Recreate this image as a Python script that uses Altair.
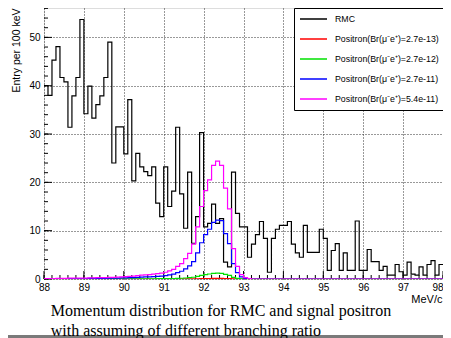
import altair as alt
import pandas as pd

# ---- data (bins of 100 keV from 88.0 to 98.0 MeV/c) ----
bin_start = 88.0
bin_width = 0.1

rmc = [40.0, 38.0, 45.3, 48.1, 41.7, 40.8, 31.4, 37.9, 41.7, 53.7,
       34.2, 39.9, 33.3, 36.1, 37.9, 41.7, 49.0, 24.0, 31.5, 31.5,
       25.9, 37.1, 20.3, 26.0, 23.2, 22.2, 21.4, 23.2, 15.7, 12.9,
       23.2, 15.0, 18.2, 31.4, 17.6, 10.5, 22.1, 7.4, 12.9, 30.3,
       10.8, 11.5, 15.5, 11.5, 12.5, 3.5, 2.5, 22.1, 13.6, 10.8,
       10.8, 4.5, 7.2, 9.2, 11.9, 8.4, 1.4, 8.4, 10.3, 11.1,
       11.1, 11.9, 7.2, 5.4, 4.5, 11.1, 5.5, 5.5, 5.5, 10.3,
       8.4, 1.8, 5.9, 7.3, 1.8, 5.4, 1.8, 1.8, 12.0, 1.8,
       1.8, 6.1, 3.6, 3.6, 1.8, 2.6, 0.8, 0.8, 3.0, 1.5,
       0.8, 3.5, 1.0, 0.8, 2.5, 0.8, 3.0, 3.8, 0.8, 3.0]

pos_27e13 = [0.0, 0.0, 0.0, 0.0, 0.0, 0.0, 0.0, 0.0, 0.0, 0.0,
             0.0, 0.0, 0.0, 0.0, 0.0, 0.0, 0.0, 0.0, 0.0, 0.0,
             0.0, 0.0, 0.0, 0.0, 0.0, 0.0, 0.0, 0.0, 0.0, 0.01,
             0.01, 0.01, 0.01, 0.01, 0.02, 0.02, 0.03, 0.04, 0.05, 0.08,
             0.09, 0.1, 0.12, 0.12, 0.12, 0.09, 0.07, 0.03, 0.01, 0.0,
             0.0, 0.0, 0.0, 0.0, 0.0, 0.0, 0.0, 0.0, 0.0, 0.0,
             0.0, 0.0, 0.0, 0.0, 0.0, 0.0, 0.0, 0.0, 0.0, 0.0,
             0.0, 0.0, 0.0, 0.0, 0.0, 0.0, 0.0, 0.0, 0.0, 0.0,
             0.0, 0.0, 0.0, 0.0, 0.0, 0.0, 0.0, 0.0, 0.0, 0.0,
             0.0, 0.0, 0.0, 0.0, 0.0, 0.0, 0.0, 0.0, 0.0, 0.0]

pos_27e12 = [0.01, 0.01, 0.01, 0.01, 0.01, 0.01, 0.01, 0.01, 0.01, 0.01,
             0.01, 0.01, 0.01, 0.02, 0.02, 0.02, 0.02, 0.02, 0.02, 0.02,
             0.03, 0.03, 0.03, 0.04, 0.04, 0.04, 0.05, 0.05, 0.06, 0.06,
             0.07, 0.09, 0.1, 0.13, 0.16, 0.21, 0.27, 0.36, 0.54, 0.75,
             0.92, 1.03, 1.17, 1.22, 1.18, 0.94, 0.73, 0.32, 0.13, 0.05,
             0.02, 0.0, 0.0, 0.0, 0.0, 0.0, 0.0, 0.0, 0.0, 0.0,
             0.0, 0.0, 0.0, 0.0, 0.0, 0.0, 0.0, 0.0, 0.0, 0.0,
             0.0, 0.0, 0.0, 0.0, 0.0, 0.0, 0.0, 0.0, 0.0, 0.0,
             0.0, 0.0, 0.0, 0.0, 0.0, 0.0, 0.0, 0.0, 0.0, 0.0,
             0.0, 0.0, 0.0, 0.0, 0.0, 0.0, 0.0, 0.0, 0.0, 0.0]

pos_27e11 = [0.05, 0.05, 0.05, 0.08, 0.08, 0.08, 0.1, 0.1, 0.1, 0.1,
             0.1, 0.12, 0.12, 0.15, 0.15, 0.15, 0.18, 0.18, 0.2, 0.22,
             0.25, 0.28, 0.3, 0.35, 0.4, 0.42, 0.45, 0.5, 0.55, 0.6,
             0.7, 0.85, 1.0, 1.3, 1.6, 2.1, 2.7, 3.6, 5.4, 7.5,
             9.2, 10.3, 11.7, 12.2, 12.1, 9.4, 7.3, 3.2, 1.3, 0.45,
             0.15, 0.05, 0.0, 0.0, 0.0, 0.0, 0.0, 0.0, 0.0, 0.0,
             0.0, 0.0, 0.0, 0.0, 0.0, 0.0, 0.0, 0.0, 0.0, 0.0,
             0.0, 0.0, 0.0, 0.0, 0.0, 0.0, 0.0, 0.0, 0.0, 0.0,
             0.0, 0.0, 0.0, 0.0, 0.0, 0.0, 0.0, 0.0, 0.0, 0.0,
             0.0, 0.0, 0.0, 0.0, 0.0, 0.0, 0.0, 0.0, 0.0, 0.0]

pos_54e11 = [0.1, 0.1, 0.1, 0.15, 0.15, 0.15, 0.2, 0.2, 0.2, 0.2,
             0.2, 0.25, 0.25, 0.3, 0.3, 0.3, 0.35, 0.35, 0.4, 0.45,
             0.5, 0.55, 0.6, 0.7, 0.8, 0.85, 0.9, 1.0, 1.1, 1.2,
             1.4, 1.7, 2.0, 2.6, 3.2, 4.2, 5.3, 7.2, 10.8, 15.0,
             18.3, 20.5, 23.5, 24.4, 23.5, 18.8, 14.5, 6.3, 2.6, 0.9,
             0.3, 0.1, 0.0, 0.0, 0.0, 0.0, 0.0, 0.0, 0.0, 0.0,
             0.0, 0.0, 0.0, 0.0, 0.0, 0.0, 0.0, 0.0, 0.0, 0.0,
             0.0, 0.0, 0.0, 0.0, 0.0, 0.0, 0.0, 0.0, 0.0, 0.0,
             0.0, 0.0, 0.0, 0.0, 0.0, 0.0, 0.0, 0.0, 0.0, 0.0,
             0.0, 0.0, 0.0, 0.0, 0.0, 0.0, 0.0, 0.0, 0.0, 0.0]

series_names = ["RMC",
                "Positron(Br(μ⁻e⁺)=2.7e-13)",
                "Positron(Br(μ⁻e⁺)=2.7e-12)",
                "Positron(Br(μ⁻e⁺)=2.7e-11)",
                "Positron(Br(μ⁻e⁺)=5.4e-11)"]
series_values = [rmc, pos_27e13, pos_27e12, pos_27e11, pos_54e11]
series_colors = ["#000000", "#ff0000", "#00e000", "#0000ff", "#ff00ff"]

x_tick_labels = [88, 89, 90, 91, 92, 93, 94, 95, 96, 97, 98]
y_tick_labels = [0, 10, 20, 30, 40, 50]
x_minor = [round(88 + 0.2 * i, 1) for i in range(51)]
y_minor = [2 * i for i in range(29)]

caption = ["Momentum distribution for RMC and signal positron",
           "with assuming of different branching ratio"]

# ---- build table ----
rows = []
for name, vals in zip(series_names, series_values):
    for i, v in enumerate(vals):
        rows.append({"series": name, "p": round(bin_start + bin_width * i, 1), "n": v, "ord": i})
    rows.append({"series": name, "p": round(bin_start + bin_width * len(vals), 1), "n": vals[-1], "ord": len(vals)})
df = pd.DataFrame(rows)

W, H = 399, 271
FONT = "Liberation Sans"

xscale = alt.Scale(domain=[88, 98], nice=False, zero=False)
yscale = alt.Scale(domain=[0, 56.08], nice=False, zero=False)
cscale = alt.Scale(domain=series_names, range=series_colors)

axX = alt.Axis(values=x_tick_labels, format="d", title="MeV/c", grid=True,
               gridDash=[1, 2], gridColor="#333333", gridWidth=1,
               ticks=False, domain=False, labelFont=FONT, labelFontSize=10,
               labelColor="black", labelPadding=3, labelFlush=False, labelOverlap=False,
               labelAlign=alt.condition("datum.value == 98", alt.value("right"), alt.value("center")),
               titleFont=FONT, titleFontSize=11, titleFontWeight="normal", titleColor="black",
               titleAnchor="end", titleAlign="right", titleBaseline="alphabetic",
               titleX=W - 1, titleY=23)
axY = alt.Axis(values=y_tick_labels, format="d", title="Entry per 100 keV", grid=True,
               gridDash=[1, 2], gridColor="#333333", gridWidth=1,
               ticks=False, domain=False, labelFont=FONT, labelFontSize=10,
               labelColor="black", labelPadding=4,
               titleFont=FONT, titleFontSize=10.5, titleFontWeight="normal", titleColor="black",
               titleAngle=270, titleAlign="right", titleBaseline="alphabetic",
               titleX=-25, titleY=0)

legend = alt.Legend(title=None, orient="none", legendX=250, legendY=0,
                    fillColor="white", strokeColor="black", padding=5, cornerRadius=0,
                    symbolType="stroke", symbolSize=729, symbolStrokeWidth=1.3,
                    clipHeight=12, rowPadding=8, labelFont=FONT, labelFontSize=8.8,
                    labelOffset=7, labelColor="black", labelLimit=300)

layers = []
for name in series_names:
    layers.append(
        alt.Chart(df).transform_filter(alt.datum.series == name)
        .mark_line(interpolate="step-after", strokeWidth=1.2, clip=True)
        .encode(
            x=alt.X("p:Q", scale=xscale, axis=axX),
            y=alt.Y("n:Q", scale=yscale, axis=axY),
            color=alt.Color("series:N", scale=cscale, legend=legend),
            order="ord:Q",
        )
    )

xmaj = pd.DataFrame({"p": x_tick_labels})
xmin = pd.DataFrame({"p": x_minor})
ymaj = pd.DataFrame({"n": y_tick_labels})
ymin = pd.DataFrame({"n": y_minor})

tick_x_major = alt.Chart(xmaj).mark_rule(color="black", strokeWidth=1).encode(
    x=alt.X("p:Q", scale=xscale, axis=axX), y=alt.value(H), y2=alt.value(H - 8))
tick_x_minor = alt.Chart(xmin).mark_rule(color="black", strokeWidth=1).encode(
    x=alt.X("p:Q", scale=xscale, axis=axX), y=alt.value(H), y2=alt.value(H - 4))
tick_y_major = alt.Chart(ymaj).mark_rule(color="black", strokeWidth=1).encode(
    y=alt.Y("n:Q", scale=yscale, axis=axY), x=alt.value(0), x2=alt.value(8))
tick_y_minor = alt.Chart(ymin).mark_rule(color="black", strokeWidth=1).encode(
    y=alt.Y("n:Q", scale=yscale, axis=axY), x=alt.value(0), x2=alt.value(4))

bar = alt.Chart(pd.DataFrame({"a": [0]})).mark_rule(color="#7a7a7a", strokeWidth=3).encode(
    x=alt.value(-40), x2=alt.value(W + 10), y=alt.value(H + 57.5))

chart = alt.layer(tick_x_major, tick_x_minor, tick_y_major, tick_y_minor, *layers, bar).properties(
    width=W, height=H,
    padding={"left": 36, "top": 0, "right": 0, "bottom": 59},
    autosize=alt.AutoSizeParams(type="none"),
    background="white",
    title=alt.TitleParams(text=caption, orient="bottom", anchor="start",
                          font="Liberation Serif", fontSize=16, fontWeight="normal",
                          color="black", dx=6.7, offset=-35, lineHeight=19.5, frame="group"),
).configure_view(stroke="black", strokeWidth=1).configure(font=FONT)

chart.save("out.html", embed_options={"renderer": "svg", "actions": False})
